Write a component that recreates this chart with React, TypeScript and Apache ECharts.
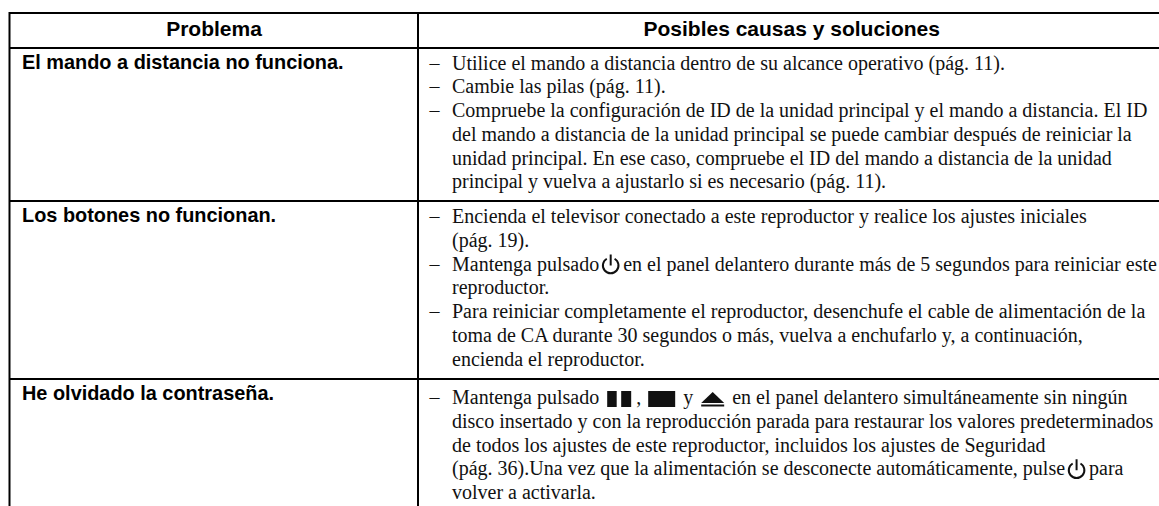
import React, { useEffect, useRef } from "react";
import * as echarts from "echarts";

const headers = ["Problema", "Posibles causas y soluciones"];
const problems = [
  "El mando a distancia no funciona.",
  "Los botones no funcionan.",
  "He olvidado la contraseña.",
];
const row1 = [
  "– Utilice el mando a distancia dentro de su alcance operativo (pág. 11).",
  "– Cambie las pilas (pág. 11).",
  "– Compruebe la configuración de ID de la unidad principal y el mando a distancia. El ID",
  "del mando a distancia de la unidad principal se puede cambiar después de reiniciar la",
  "unidad principal. En ese caso, compruebe el ID del mando a distancia de la unidad",
  "principal y vuelva a ajustarlo si es necesario (pág. 11).",
];
const row2 = [
  "– Encienda el televisor conectado a este reproductor y realice los ajustes iniciales",
  "(pág. 19).",
  "– Mantenga pulsado|P|en el panel delantero durante más de 5 segundos para reiniciar este",
  "reproductor.",
  "– Para reiniciar completamente el reproductor, desenchufe el cable de alimentación de la",
  "toma de CA durante 30 segundos o más, vuelva a enchufarlo y, a continuación,",
  "encienda el reproductor.",
];
const row3 = [
  "– Mantenga pulsado|A|,|S|y|E|en el panel delantero simultáneamente sin ningún",
  "disco insertado y con la reproducción parada para restaurar los valores predeterminados",
  "de todos los ajustes de este reproductor, incluidos los ajustes de Seguridad",
  "(pág. 36).Una vez que la alimentación se desconecte automáticamente, pulse|P|para",
  "volver a activarla.",
];
const rows = [row1, row2, row3];

const W = 1159, H = 506;
const LEFT = 9.5, DIV = 418, TOP = 13, HEAD_B = 48;
const PITCH = 23.75, FS = 20;
const SERIF = '"Liberation Serif"', SANS = '"Liberation Sans"';
const DASH_X = 429.5, TEXT_X = 452, PROB_X = 22;
const ROW_Y = [62.5, 216, 397];
const PROB_Y = [62, 215, 393];
const BORDERS = [201, 379];
const ICON_W: Record<string, number> = { P: 24, A: 37, S: 42, E: 39 };

const ctx = document.createElement("canvas").getContext("2d")!;
const measure = (s: string) => {
  ctx.font = `${FS}px ${SERIF}`;
  return ctx.measureText(s).width;
};

function icon(k: string, x: number, y: number): any[] {
  const c = "#111";
  if (k === "P") {
    const cx = x + 11.5;
    return [
      { type: "arc", shape: { cx, cy: y + 2, r: 7.8, startAngle: -Math.PI / 3, endAngle: (4 * Math.PI) / 3, clockwise: true }, style: { stroke: c, lineWidth: 2, fill: "none" } },
      { type: "line", shape: { x1: cx, y1: y - 9, x2: cx, y2: y + 2 }, style: { stroke: c, lineWidth: 2 } },
    ];
  }
  if (k === "A")
    return [
      { type: "rect", shape: { x: x + 8, y: y - 6, width: 9.5, height: 16 }, style: { fill: c } },
      { type: "rect", shape: { x: x + 22, y: y - 6, width: 10, height: 16 }, style: { fill: c } },
    ];
  if (k === "S")
    return [{ type: "rect", shape: { x: x + 7, y: y - 6, width: 27, height: 16 }, style: { fill: c } }];
  return [
    { type: "polygon", shape: { points: [[x + 8, y + 6], [x + 31, y + 6], [x + 19.5, y - 5]] }, style: { fill: c } },
    { type: "rect", shape: { x: x + 8, y: y + 7.5, width: 23, height: 2 }, style: { fill: c } },
  ];
}

function buildElements(): any[] {
  const els: any[] = [];
  const line = (x1: number, y1: number, x2: number, y2: number) =>
    els.push({ type: "line", shape: { x1, y1, x2, y2 }, style: { stroke: "#000", lineWidth: 2 } });
  const text = (x: number, y: number, t: string, font: string, align = "left", fill = "#111") =>
    els.push({ type: "text", x, y, style: { text: t, font, fill, textAlign: align, textVerticalAlign: "middle" } });

  line(LEFT, TOP, W, TOP);
  line(LEFT, HEAD_B, W, HEAD_B);
  text(214, 28, headers[0], `bold 21px ${SANS}`, "center", "#000");
  text(791.7, 28, headers[1], `bold 21px ${SANS}`, "center", "#000");

  rows.forEach((lines, i) => {
    const y = ROW_Y[i];
    text(PROB_X, PROB_Y[i], problems[i], `bold 19.9px ${SANS}`, "left", "#000");
    lines.forEach((l, j) => {
      const ly = y + j * PITCH;
      let s = l;
      if (s.startsWith("– ")) {
        text(DASH_X, ly, "–", `${FS}px ${SERIF}`);
        s = s.slice(2);
      }
      let x = TEXT_X;
      s.split("|").forEach((part) => {
        if (ICON_W[part]) {
          els.push(...icon(part, x, ly));
          x += ICON_W[part];
        } else {
          text(x, ly, part, `${FS}px ${SERIF}`);
          x += measure(part);
        }
      });
    });
  });
  BORDERS.forEach((b) => line(LEFT, b, W, b));
  line(LEFT, TOP - 1, LEFT, H);
  line(DIV, TOP - 1, DIV, H);
  return els;
}

export default function App() {
  const ref = useRef<HTMLDivElement>(null);
  useEffect(() => {
    const chart = echarts.init(ref.current!, null, { renderer: "svg" });
    chart.setOption({ animation: false, backgroundColor: "#fff", graphic: { elements: buildElements() } });
    return () => chart.dispose();
  }, []);
  return <div ref={ref} style={{ position: "fixed", left: 0, top: 0, width: W, height: H }} />;
}
